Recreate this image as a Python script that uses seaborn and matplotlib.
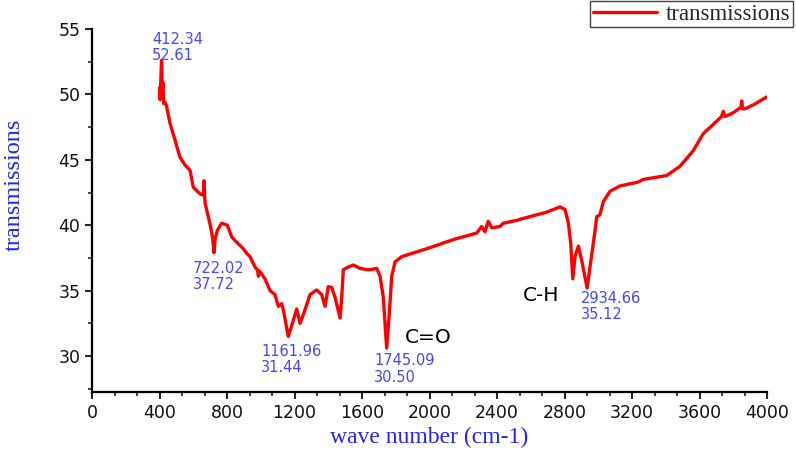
import matplotlib
matplotlib.use("Agg")
import matplotlib.pyplot as plt
from matplotlib.ticker import MultipleLocator
import pandas as pd
import seaborn as sns

# FTIR spectrum (wavenumber cm-1, transmission)
wave = [400, 404, 408, 412, 416, 420, 425, 432, 440, 462, 492, 521, 551, 581, 600,
        640, 660, 664, 667, 670, 699, 715, 723, 730, 743, 768, 802, 828, 857, 897,
        917, 936, 966, 980, 986, 992, 1025, 1055, 1084, 1104, 1124, 1134, 1163, 1190,
        1213, 1233, 1256, 1292, 1331, 1361, 1381, 1400, 1420, 1440, 1470, 1480, 1489,
        1519, 1549, 1588, 1628, 1647, 1687, 1707, 1726, 1746, 1762, 1776, 1796, 1836,
        1983, 2141, 2280, 2309, 2329, 2348, 2369, 2418, 2437, 2526, 2536, 2695, 2773,
        2803, 2823, 2837, 2849, 2862, 2882, 2902, 2934, 2951, 2981, 2991, 3010, 3030,
        3070, 3129, 3237, 3267, 3406, 3484, 3563, 3622, 3681, 3730, 3741, 3750, 3800,
        3845, 3850, 3855, 3870, 3919, 3998]
trans = [50.5, 49.6, 51.2, 52.6, 50.3, 50.9, 49.3, 49.4, 49.2, 47.8, 46.5, 45.2, 44.6, 44.2, 42.9,
         42.4, 42.3, 43.4, 42.3, 41.7, 40.1, 39.0, 37.9, 39.0, 39.6, 40.15, 40.0, 39.1, 38.7, 38.2,
         37.85, 37.6, 36.8, 36.6, 36.1, 36.5, 35.9, 35.0, 34.7, 33.8, 34.0, 33.5, 31.5, 32.6,
         33.6, 32.5, 33.3, 34.7, 35.05, 34.7, 33.8, 35.3, 35.25, 34.5, 32.9, 34.5, 36.6,
         36.8, 36.96, 36.7, 36.6, 36.6, 36.7, 36.1, 34.5, 30.6, 33.3, 36.1, 37.2, 37.6,
         38.2, 38.9, 39.4, 39.9, 39.5, 40.3, 39.8, 39.9, 40.15, 40.4, 40.45, 41.0, 41.4,
         41.2, 40.15, 38.6, 35.9, 37.6, 38.4, 37.3, 35.2, 36.8, 39.6, 40.65, 40.8, 41.8,
         42.6, 43.0, 43.3, 43.5, 43.8, 44.5, 45.7, 47.0, 47.7, 48.3, 48.7, 48.3, 48.6,
         49.0, 49.5, 48.9, 48.9, 49.2, 49.8]

# peak labels
peak_text = ["412.34\n52.61", "722.02\n37.72", "1161.96\n31.44", "1745.09\n30.50", "2934.66\n35.12"]
peak_x = [356, 598, 1001, 1671, 2898]
peak_y = [54.8, 37.3, 30.95, 30.2, 34.95]
group_text = ["C=O", "C-H"]
group_x = [1855, 2554]
group_y = [31.4, 34.66]

df = pd.DataFrame({"wave": wave, "transmissions": trans})

sns.set_style("ticks")
plt.rcParams["font.family"] = ["DejaVu Sans"]

fig = plt.figure(figsize=(7.96, 4.5), dpi=100)
ax = fig.add_axes([0.1156, 0.1289, 0.848, 0.8067])

sns.lineplot(data=df, x="wave", y="transmissions", color="#ff0000", linewidth=2.4,
             ax=ax, label="transmissions", legend=False)

ax.set_xlim(0, 4000)
ax.set_ylim(27.25, 55)
ax.xaxis.set_major_locator(MultipleLocator(400))
ax.xaxis.set_minor_locator(MultipleLocator(400 / 3))
ax.yaxis.set_major_locator(MultipleLocator(5))
ax.yaxis.set_minor_locator(MultipleLocator(2.5))
ax.set_yticks([30, 35, 40, 45, 50, 55])
ax.tick_params(axis="both", which="major", length=5, width=1.5, labelsize=12.5,
               direction="out", labelcolor="#111111")
ax.tick_params(axis="both", which="minor", length=3, width=1.2, direction="out")
for s in ["left", "bottom"]:
    ax.spines[s].set_linewidth(1.6)
    ax.spines[s].set_color("black")
sns.despine(ax=ax)

ax.set_xlabel("wave number (cm-1)", family="Liberation Serif", color="#2222ff", fontsize=17)
ax.set_ylabel("transmissions", family="Liberation Serif", color="#2222ff", fontsize=17.5)
ax.xaxis.set_label_coords(0.5, -0.097)
ax.yaxis.set_label_coords(-0.1, 0.57)

for t, x, y in zip(peak_text, peak_x, peak_y):
    ax.text(x, y, t, color="#4646ff", fontsize=10.5, ha="left", va="top", linespacing=1.1)
for t, x, y in zip(group_text, group_x, group_y):
    ax.text(x, y, t, color="black", fontsize=14.5, ha="left", va="center")

fig.legend(handles=ax.get_lines(), labels=["transmissions"], loc="upper right",
           bbox_to_anchor=(0.996, 0.997), borderaxespad=0, fancybox=False,
           edgecolor="#444444", framealpha=1, borderpad=0.1, handlelength=2.8,
           handletextpad=0.4, prop={"family": "Liberation Serif", "size": 16.5})

fig.savefig("out.png", dpi=100)
